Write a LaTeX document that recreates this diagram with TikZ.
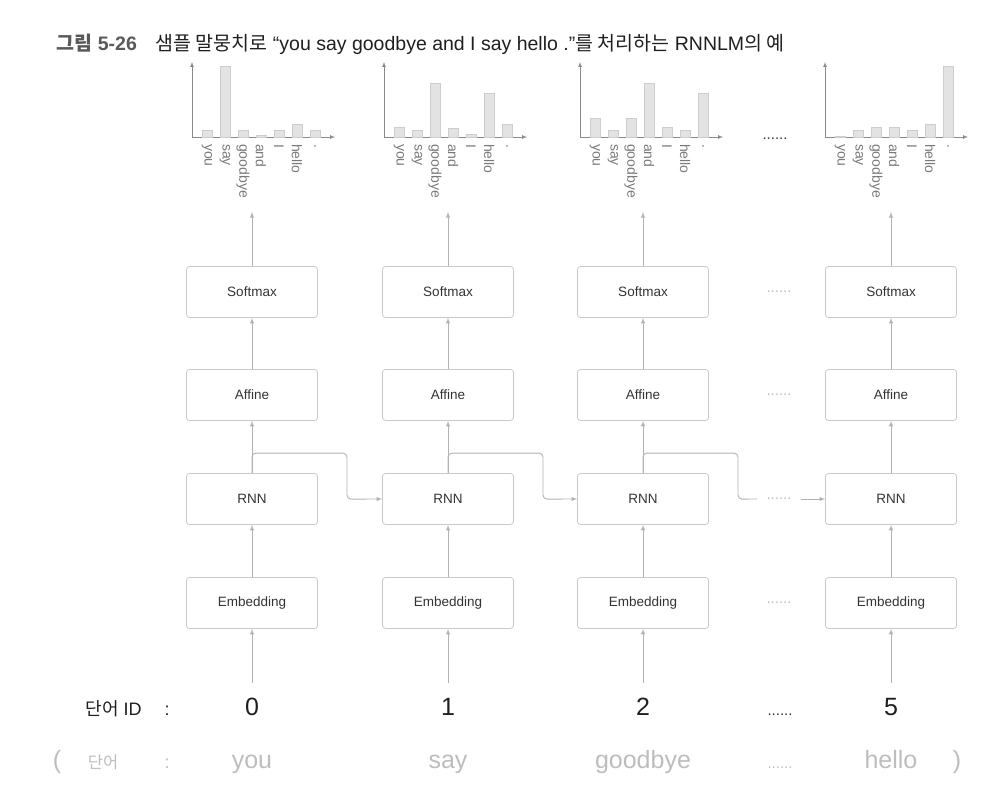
\documentclass[tikz,border=0pt]{standalone}
\usepackage{fontspec}
\setmainfont{Liberation Sans}
\newfontfamily\krfont{Noto Sans CJK KR}
\definecolor{boxline}{HTML}{C9C9C9}
\definecolor{flowgray}{HTML}{B2B2B2}
\definecolor{textdark}{HTML}{333333}
\definecolor{textlight}{HTML}{BDBDBD}
\definecolor{barfill}{HTML}{E3E3E3}
\definecolor{barline}{HTML}{CDCDCD}
\definecolor{axisgray}{HTML}{8A8A8A}
\definecolor{wordgray}{HTML}{7A7A7A}

\begin{document}
\begin{tikzpicture}[x=1pt, y=-1pt]
  \tikzset{
    layer/.style={rectangle, draw=boxline, line width=0.8pt, rounded corners=3pt,
                  minimum width=131pt, minimum height=51pt, text=textdark,
                  font=\fontsize{13.5}{16}\selectfont},
    flow/.style={->, >=latex, draw=flowgray, line width=0.9pt},
    axis/.style={->, >=latex, draw=axisgray, line width=0.7pt},
    bar/.style={draw=barline, fill=barfill, line width=0.5pt},
    word/.style={rotate=-90, anchor=west, inner sep=0pt, text=wordgray,
                 font=\fontsize{14}{16}\selectfont},
    dotsdark/.style={text=textdark, font=\fontsize{15}{16}\selectfont},
    dotslight/.style={text=textlight, font=\fontsize{15}{16}\selectfont},
    idtxt/.style={anchor=base, text=black!88, font=\fontsize{18}{20}\selectfont},
    idnum/.style={anchor=base, text=black!88, font=\fontsize{25}{28}\selectfont},
    wdtxt/.style={anchor=base, text=textlight, font=\fontsize{25}{28}\selectfont},
  }
  \useasboundingbox (0,0) rectangle (999,803);
  % Title
  \node[anchor=base west, text=black!65, font=\fontsize{19.5}{22}\selectfont\bfseries]
    (fignum) at (53,50) {{\krfont 그림} 5-26};
  \node[anchor=base west, text=black!88, font=\fontsize{19.5}{22}\selectfont]
    (caption) at (152,50) {{\krfont 샘플 말뭉치로} “you say goodbye and I say hello .”{\krfont 를 처리하는} RNNLM{\krfont 의 예}};
  % Output distributions
  \foreach \ax/\hs [count=\c] in {192/{7,71,7,2,7,13,7}, 384/{10,7,54,9,3,44,13},
                                  580/{19,7,19,54,10,7,44}, 825/{1,7,10,10,7,13,71}}{
    \draw[axis] (\ax,137) -- (\ax,62);
    \draw[axis] (\ax,137) -- (\ax+143,137);
    \foreach \w [count=\k from 0] in {you,say,goodbye,and,I,hello,.}{
      \pgfmathsetmacro\h{{\hs}[\k]}
      \pgfmathsetmacro\bx{\ax+15+18*\k}
      \draw[bar] (\bx-5,137) rectangle (\bx+5,137-\h);
      \node[word] (w\c-\k) at (\bx,144) {\w};
    }
  }
  \node[dotsdark] (chartdots) at (775,139) {......};
  % Layers
  \foreach \cx [count=\c] in {252,448,643,891}{
    \node[layer] (sm\c) at (\cx,292) {Softmax};
    \node[layer] (af\c) at (\cx,395) {Affine};
    \node[layer] (rn\c) at (\cx,499) {RNN};
    \node[layer] (em\c) at (\cx,603) {Embedding};
    \coordinate (out\c) at (\cx,212);
    \coordinate (in\c) at (\cx,683);
    \draw[flow] (in\c) -- (em\c);
    \draw[flow] (em\c) -- (rn\c);
    \draw[flow] (rn\c) -- (af\c);
    \draw[flow] (af\c) -- (sm\c);
    \draw[flow] (sm\c) -- (out\c);
  }
  \foreach \y/\n in {292/sm,395/af,603/em}{
    \node[dotslight] (\n dots) at (779,\y) {......};
  }
  % Hidden state passed on
  \draw[flow, rounded corners=4pt] (rn1.north) -- ++(0,-20) -| ++(95,46) -- (rn2.west);
  \draw[flow, rounded corners=4pt] (rn2.north) -- ++(0,-20) -| ++(95,46) -- (rn3.west);
  \coordinate (gapL) at (757,499);
  \coordinate (gapR) at (801,499);
  \draw[flowgray, line width=0.9pt, rounded corners=4pt] (rn3.north) -- ++(0,-20) -| ++(95,46) -- (gapL);
  \node[dotslight] (rndots) at (779,499) {......};
  \draw[flow] (gapR) -- (rn4.west);
  % Word IDs
  \node[idtxt, anchor=base west] (idlbl) at (82,715) {{\krfont 단어} ID};
  \node[idtxt] (idcolon) at (167,715) {:};
  \node[anchor=base, text=textlight, font=\fontsize{25}{28}\selectfont] (lpar) at (57,768) {(};
  \node[anchor=base, text=textlight, font=\fontsize{16.5}{18}\selectfont] (wdlbl) at (103,768) {\krfont 단어};
  \node[anchor=base, text=textlight, font=\fontsize{18}{20}\selectfont] (wdcolon) at (167,768) {:};
  \foreach \cx/\n/\w [count=\c] in {252/0/you, 448/1/say, 643/2/goodbye, 891/5/hello}{
    \node[idnum] (id\c) at (\cx,715) {\n};
    \node[wdtxt] (wd\c) at (\cx,768) {\w};
  }
  \node[dotsdark, anchor=base] (iddots) at (780,715) {......};
  \node[dotslight, anchor=base] (wddots) at (780,768) {......};
  \node[anchor=base, text=textlight, font=\fontsize{25}{28}\selectfont] (rpar) at (957,768) {)};
\end{tikzpicture}
\end{document}
